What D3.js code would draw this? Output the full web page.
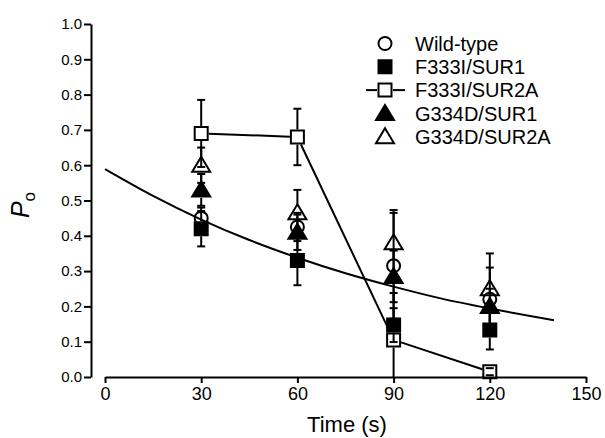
<!DOCTYPE html>
<html><head><meta charset="utf-8">
<script src="https://cdn.jsdelivr.net/npm/d3@7/dist/d3.min.js"></script>
<style>
html,body{margin:0;padding:0;background:#fff;}
svg{display:block;font-family:"Liberation Sans",Arial,sans-serif;}
</style></head>
<body><svg id="c" width="605" height="438"></svg>
<script>
// ---- data ----
const times = [30, 60, 90, 120];
const seriesNames = ["Wild-type", "F333I/SUR1", "F333I/SUR2A", "G334D/SUR1", "G334D/SUR2A"];
const wildType      = [0.45, 0.425, 0.315, 0.22];
const wildTypeErr   = [0.03, 0.04, 0.15, 0.09];
const f333iSur1     = [0.42, 0.33, 0.147, 0.133];
const f333iSur1Err  = [0.05, 0.07, 0.048, 0.055];
const f333iSur2a    = [0.69, 0.68, 0.105, 0.015];
const f333iSur2aErr = [0.095, 0.08, 0.133, 0.01];
const g334dSur1     = [0.53, 0.41, 0.285, 0.2];
const g334dSur1Err  = [0.045, 0.05, 0.073, 0.05];
const g334dSur2a    = [0.60, 0.465, 0.38, 0.25];
const g334dSur2aErr = [0.05, 0.065, 0.093, 0.1];
// fitted decay curve
const fitTimes  = [0, 15, 30, 45, 60, 75, 90, 105, 120, 140];
const fitValues = [0.589, 0.513, 0.446, 0.388, 0.338, 0.294, 0.256, 0.222, 0.194, 0.161];
const xTicks = [0, 30, 60, 90, 120, 150];
const yTicks = [0, 0.1, 0.2, 0.3, 0.4, 0.5, 0.6, 0.7, 0.8, 0.9, 1.0];

// ---- styles ----
const seriesStyle = [
  {shape: "circle", filled: false, connect: false},
  {shape: "square", filled: true, connect: false},
  {shape: "square", filled: false, connect: true},
  {shape: "triangle", filled: true, connect: false},
  {shape: "triangle", filled: false, connect: false}
];
const seriesValues = [wildType, f333iSur1, f333iSur2a, g334dSur1, g334dSur2a];
const seriesErrors = [wildTypeErr, f333iSur1Err, f333iSur2aErr, g334dSur1Err, g334dSur2aErr];

const svg = d3.select("#c");
const x = d3.scaleLinear().domain([0, 150]).range([105, 586]);
const y = d3.scaleLinear().domain([0, 1]).range([377, 24]);

// axes
const gy = svg.append("g").attr("transform", "translate(91,0)")
  .call(d3.axisLeft(y).tickValues(yTicks).tickFormat(d3.format(".1f")).tickSize(7).tickSizeOuter(0).tickPadding(2));
gy.selectAll("text").attr("font-size", 15).attr("fill", "#000").attr("font-family", "Liberation Sans, Arial, sans-serif");
const gx = svg.append("g").attr("transform", "translate(0,377)")
  .call(d3.axisBottom(x).tickValues(xTicks).tickSize(6).tickSizeOuter(0).tickPadding(4));
gx.selectAll("text").attr("font-size", 18).attr("fill", "#000").attr("font-family", "Liberation Sans, Arial, sans-serif");
svg.selectAll(".domain, .tick line").attr("stroke", "#000").attr("stroke-width", 2);

// axis titles
svg.append("text").attr("x", 347).attr("y", 432).attr("text-anchor", "middle")
  .attr("font-size", 22).attr("fill", "#000").text("Time (s)");
const yl = svg.append("text").attr("transform", "translate(29,205) rotate(-90)")
  .attr("text-anchor", "middle").attr("font-size", 25).attr("fill", "#000");
yl.append("tspan").attr("font-style", "italic").text("P");
yl.append("tspan").attr("font-size", 17).attr("dy", 6).text("o");

// marker helpers
const H = 6.5; // half size
function markerPath(shape, cx, cy) {
  if (shape === "circle") {
    return `M${cx - H},${cy}a${H},${H} 0 1,0 ${2*H},0a${H},${H} 0 1,0 ${-2*H},0Z`;
  } else if (shape === "square") {
    return `M${cx - H},${cy - H}h${2*H}v${2*H}h${-2*H}Z`;
  } else {
    return `M${cx},${cy - 8.5}L${cx + 9},${cy + 6.5}L${cx - 9},${cy + 6.5}Z`;
  }
}
function drawMarker(g, st, cx, cy) {
  g.append("path").attr("d", markerPath(st.shape, cx, cy))
    .attr("fill", st.filled ? "#000" : "none")
    .attr("stroke", "#000").attr("stroke-width", 2)
    .attr("stroke-linejoin", "miter");
}

// fit curve
svg.append("path").datum(fitTimes.map((t, i) => [t, fitValues[i]]))
  .attr("d", d3.line().x(d => x(d[0])).y(d => y(d[1])).curve(d3.curveMonotoneX))
  .attr("fill", "none").attr("stroke", "#000").attr("stroke-width", 2);

const plot = svg.append("g");
// connecting line for F333I/SUR2A (gapped at markers)
seriesStyle.forEach((st, si) => {
  if (!st.connect) return;
  const vals = seriesValues[si];
  for (let i = 0; i < times.length - 1; i++) {
    const x1 = x(times[i]), y1 = y(vals[i]), x2 = x(times[i+1]), y2 = y(vals[i+1]);
    const dx = x2 - x1, dy = y2 - y1, L = Math.hypot(dx, dy);
    const ux = dx / L, uy = dy / L;
    const g = (H + 1) / Math.max(Math.abs(ux), Math.abs(uy));
    plot.append("line")
      .attr("x1", x1 + ux * g).attr("y1", y1 + uy * g)
      .attr("x2", x2 - ux * g).attr("y2", y2 - uy * g)
      .attr("stroke", "#000").attr("stroke-width", 2);
  }
});

// error bars and markers
seriesStyle.forEach((st, si) => {
  const vals = seriesValues[si], errs = seriesErrors[si];
  times.forEach((t, i) => {
    const cx = x(t), cy = y(vals[i]);
    const hiY = y(vals[i] + errs[i]);
    const loY = Math.min(y(Math.max(0, vals[i] - errs[i])), 377);
    const gap = st.shape === "triangle" ? 8 : H + 1;
    if (cy - gap > hiY) plot.append("line").attr("x1", cx).attr("x2", cx).attr("y1", cy - gap).attr("y2", hiY)
      .attr("stroke", "#000").attr("stroke-width", 2);
    if (cy + gap < loY) plot.append("line").attr("x1", cx).attr("x2", cx).attr("y1", cy + gap).attr("y2", loY)
      .attr("stroke", "#000").attr("stroke-width", 2);
    [hiY, loY].forEach(cyv => {
      if (cyv < 376) plot.append("line").attr("x1", cx - 4).attr("x2", cx + 4).attr("y1", cyv).attr("y2", cyv)
        .attr("stroke", "#000").attr("stroke-width", 2);
    });
    drawMarker(plot, st, cx, cy);
  });
});

// legend
const leg = svg.append("g");
seriesNames.forEach((name, i) => {
  const ly = 43.5 + i * 23.3;
  const st = seriesStyle[i];
  if (st.connect) {
    leg.append("line").attr("x1", 366).attr("x2", 377).attr("y1", ly).attr("y2", ly).attr("stroke", "#000").attr("stroke-width", 2);
    leg.append("line").attr("x1", 393).attr("x2", 405).attr("y1", ly).attr("y2", ly).attr("stroke", "#000").attr("stroke-width", 2);
  }
  drawMarker(leg, st, 385, ly + (st.shape === "triangle" ? 0 : 0));
  leg.append("text").attr("x", 415).attr("y", ly).attr("dy", "0.36em")
    .attr("font-size", 20).attr("fill", "#000").text(name);
});
</script>
</body></html>
